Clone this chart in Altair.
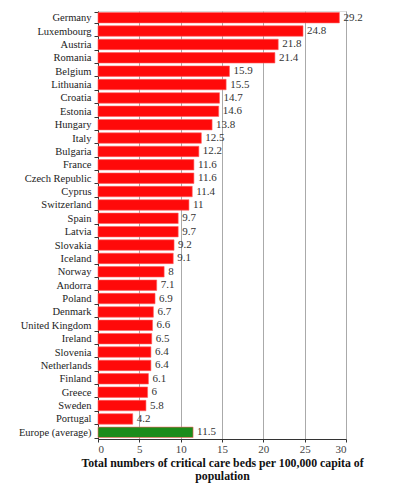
import altair as alt
import pandas as pd

countries = ["Germany", "Luxembourg", "Austria", "Romania", "Belgium", "Lithuania",
             "Croatia", "Estonia", "Hungary", "Italy", "Bulgaria", "France",
             "Czech Republic", "Cyprus", "Switzerland", "Spain", "Latvia", "Slovakia",
             "Iceland", "Norway", "Andorra", "Poland", "Denmark", "United Kingdom",
             "Ireland", "Slovenia", "Netherlands", "Finland", "Greece", "Sweden",
             "Portugal", "Europe (average)"]
values = [29.2, 24.8, 21.8, 21.4, 15.9, 15.5, 14.7, 14.6, 13.8, 12.5, 12.2, 11.6,
          11.6, 11.4, 11, 9.7, 9.7, 9.2, 9.1, 8, 7.1, 6.9, 6.7, 6.6, 6.5, 6.4,
          6.4, 6.1, 6, 5.8, 4.2, 11.5]
x_ticks = [0, 5, 10, 15, 20, 25, 30]

df = pd.DataFrame({"country": countries, "value": values})
df["label"] = df["value"].map(lambda v: f"{v:g}")
df["fill"] = ["#1a8c1a" if c == "Europe (average)" else "#ff0a0a" for c in countries]

FONT = "Liberation Serif"

y_enc = alt.Y("country:N", sort=countries, title=None,
              scale=alt.Scale(paddingInner=0.22, paddingOuter=0.11),
              axis=alt.Axis(labelFont=FONT, labelFontSize=10.5, labelColor="#222",
                            domainColor="#333", tickColor="#333", tickSize=4,
                            tickBand="extent", labelPadding=3, grid=False))
x_enc = alt.X("value:Q", title=["Total numbers of critical care beds per 100,000 capita of", "population"],
              scale=alt.Scale(domain=[0, 30], nice=False),
              axis=alt.Axis(values=x_ticks, labelFont=FONT, labelFontSize=11, labelColor="#444",
                            domainColor="#333", tickColor="#333", tickSize=3, labelPadding=1,
                            grid=True, gridColor="#aaaaaa", gridWidth=1,
                            titleFont=FONT, titleFontSize=11.8, titleFontWeight="bold",
                            titleColor="#111", titlePadding=3, titleLineHeight=13))

bars = alt.Chart(df).mark_bar(stroke="#ff6060", strokeWidth=0.6).encode(
    y=y_enc, x=x_enc, fill=alt.Fill("fill:N", scale=None))
text = alt.Chart(df).mark_text(align="left", dx=4, font=FONT, fontSize=11, color="#333").encode(
    y=alt.Y("country:N", sort=countries), x="value:Q", text="label:N")

chart = (bars + text).properties(
    width=248, height=428,
    autosize=alt.AutoSizeParams(type="none"),
    padding={"left": 90, "top": 3, "right": 46, "bottom": 44},
).configure_view(stroke=None).configure(background="white")

chart.save("out.html", embed_options={"renderer": "svg", "actions": False})
